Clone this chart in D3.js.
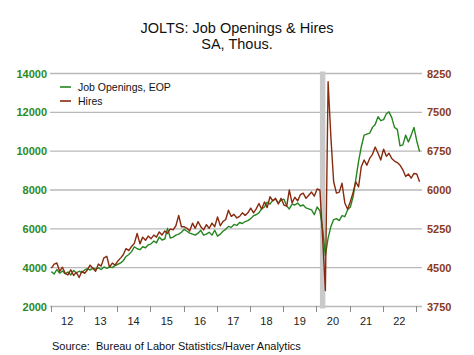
<!DOCTYPE html>
<html>
<head>
<meta charset="utf-8">
<script src="https://cdn.jsdelivr.net/npm/d3@7"></script>
<style>
  html, body { margin: 0; padding: 0; background: #fff; }
  svg { display: block; font-family: "Liberation Sans", Arial, sans-serif; }
</style>
</head>
<body>
<svg id="chart" width="474" height="355"></svg>
<script>
// ---- data (monthly, Jan 2012 – Feb 2023, thousands, SA) ----
const startYear = 2012;
const jobOpenings = [
  3770, 3650, 3880, 3690, 3800, 3660, 3750, 3600, 3830, 3700, 3790, 3720,
  3860, 3930, 3850, 3950, 3900, 3960, 3880, 4010, 3940, 4020, 3980, 4080,
  4150, 4220, 4330, 4550, 4650, 4800, 5050, 4950, 4900, 5050, 5000, 5150,
  5200, 5350, 5250, 5550, 5400, 5450, 6000, 5500, 5550, 5650, 5700, 5800,
  5950, 5850, 5750, 5700, 5650, 5750, 5900, 5650, 5700, 5800, 5650, 5900,
  5600, 5700, 5850, 5950, 6100, 6050, 6200, 6150, 6300, 6250, 6350, 6400,
  6500, 6650, 6700, 6800, 7000, 7100, 7350, 7250, 7450, 7500, 7300, 7450,
  7500, 7150, 7000, 7250, 7200, 7300, 7150, 7200, 7050, 7000, 6950, 6700,
  7100, 6900, 6000, 4600, 5500, 6100, 6450, 6500, 6400, 6650, 6600, 6950,
  7100, 7650, 8500, 9450, 10200, 10800, 10850, 10900, 11200, 11350, 11750, 11550,
  11600, 11900, 12000, 11700, 11200, 11100, 10250, 10300, 10800, 10450, 10800, 11200,
  10500, 9950
];
const hires = [
  4480, 4560, 4580, 4420, 4500, 4380, 4350, 4450, 4340, 4400, 4300, 4420,
  4380, 4450, 4540, 4480, 4420, 4560, 4520, 4680, 4710, 4500, 4580, 4540,
  4620, 4680, 4740, 4860, 4820, 4900, 4960, 5150, 4950, 5080, 5020, 5100,
  5050, 5120, 5080, 5180, 5120, 5200, 5150, 5240, 5220, 5300, 5500, 5280,
  5280, 5250, 5200, 5350, 5250, 5380, 5280, 5220, 5320, 5250, 5350, 5280,
  5470, 5300, 5380, 5420, 5600, 5480, 5520, 5450, 5480, 5550, 5500, 5550,
  5640, 5550, 5620, 5730, 5620, 5760, 5650, 5860, 5780, 5830, 5720, 5830,
  5700, 5680, 5990, 5740, 5850, 5780, 5900, 5930, 5830, 5890, 5950, 5870,
  6010, 5990, 5100, 4050, 8080, 7000, 6150, 5930, 5950, 6120, 5740, 5620,
  5770, 5950, 6150, 6050, 6440, 6570, 6470, 6600, 6680, 6820, 6700, 6570,
  6780, 6640, 6700, 6600, 6550, 6520, 6470, 6380, 6250, 6300, 6220, 6310,
  6300, 6150
];
const seriesNames = ["Job Openings, EOP", "Hires"];
const leftTicks = [2000, 4000, 6000, 8000, 10000, 12000, 14000];
const rightTicks = [3750, 4500, 5250, 6000, 6750, 7500, 8250];
const yearTickLabels = ["12","13","14","15","16","17","18","19","20","21","22"];
const recession = [[2020, 1], [2020, 3]]; // Feb 2020 – Apr 2020
const titleLines = ["JOLTS: Job Openings & Hires", "SA, Thous."];
const sourceText = "Source:  Bureau of Labor Statistics/Haver Analytics";

// ---- styles ----
const GREEN = "#25861f", BROWN = "#872a0e";
const GREEN_LBL = "#2c8a26", BROWN_LBL = "#8a3a1c";
const GRID = "#b9b9b9";

const svg = d3.select("#chart");
svg.append("rect").attr("width", 474).attr("height", 355).attr("fill", "#fff");

const dateOf = (i) => new Date(startYear + Math.floor(i / 12), i % 12, 9);

const x = d3.scaleTime()
  .domain([new Date(2012, 0, 1), new Date(2023, 2, 1)])
  .range([50.67, 421.4]);
const yL = d3.scaleLinear().domain([2000, 14000]).range([306, 73]);
const yR = d3.scaleLinear().domain([3750, 8250]).range([306, 73]);

// title
svg.selectAll("text.title").data(titleLines).enter().append("text")
  .attr("class", "title")
  .attr("x", 237).attr("y", (d, i) => 33 + i * 16)
  .attr("text-anchor", "middle")
  .attr("font-size", 14.5).attr("fill", "#111")
  .text(d => d);

// gridlines
svg.append("g").selectAll("line").data(leftTicks).enter().append("line")
  .attr("x1", 50).attr("x2", 422)
  .attr("y1", d => yL(d) + 0.5).attr("y2", d => yL(d) + 0.5)
  .attr("stroke", GRID).attr("stroke-width", 1.3);

// recession bar
svg.append("rect")
  .attr("x", x(new Date(recession[0][0], recession[0][1], 9)))
  .attr("width", x(new Date(recession[1][0], recession[1][1], 9)) - x(new Date(recession[0][0], recession[0][1], 9)))
  .attr("y", 71.5).attr("height", 308.5 - 71.5)
  .attr("fill", "#c9c9c9");

// left axis labels
svg.append("g").selectAll("text").data(leftTicks).enter().append("text")
  .attr("x", 47).attr("y", d => yL(d) + 4.5)
  .attr("text-anchor", "end")
  .attr("font-size", 11).attr("font-weight", "bold").attr("fill", GREEN_LBL)
  .text(d => d);

// right axis labels
svg.append("g").selectAll("text").data(rightTicks).enter().append("text")
  .attr("x", 427).attr("y", d => yR(d) + 4.5)
  .attr("text-anchor", "start")
  .attr("font-size", 11).attr("font-weight", "bold").attr("fill", BROWN_LBL)
  .text(d => d);

// x axis ticks and labels
const yearStarts = d3.range(2012, 2024).map(y => new Date(y, 0, 1));
svg.append("g").selectAll("line").data(yearStarts).enter().append("line")
  .attr("x1", d => Math.round(x(d)) + 0.5).attr("x2", d => Math.round(x(d)) + 0.5)
  .attr("y1", 306).attr("y2", 312)
  .attr("stroke", "#8a8a8a").attr("stroke-width", 1);

svg.append("g").selectAll("text").data(yearTickLabels).enter().append("text")
  .attr("x", (d, i) => x(new Date(2012 + i, 6, 1)))
  .attr("y", 324.5)
  .attr("text-anchor", "middle")
  .attr("font-size", 11).attr("fill", "#222")
  .text(d => d);

// lines
const lineL = d3.line().x((d, i) => x(dateOf(i))).y(d => yL(d));
const lineR = d3.line().x((d, i) => x(dateOf(i))).y(d => yR(d));

svg.append("path").datum(jobOpenings)
  .attr("d", lineL).attr("fill", "none")
  .attr("stroke", GREEN).attr("stroke-width", 1.4).attr("stroke-linejoin", "round");
svg.append("path").datum(hires)
  .attr("d", lineR).attr("fill", "none")
  .attr("stroke", BROWN).attr("stroke-width", 1.4).attr("stroke-linejoin", "round");

// legend
const legend = svg.append("g");
[GREEN, BROWN].forEach((c, i) => {
  legend.append("line")
    .attr("x1", 60).attr("x2", 71)
    .attr("y1", 87 + i * 14).attr("y2", 87 + i * 14)
    .attr("stroke", c).attr("stroke-width", 1.6);
  legend.append("text")
    .attr("x", 78).attr("y", 90.5 + i * 14)
    .attr("font-size", 10.5).attr("fill", "#111")
    .text(seriesNames[i]);
});

// source
svg.append("text")
  .attr("x", 52).attr("y", 350)
  .attr("font-size", 11).attr("fill", "#111")
  .attr("xml:space", "preserve")
  .style("white-space", "pre")
  .text(sourceText);
</script>
</body>
</html>
